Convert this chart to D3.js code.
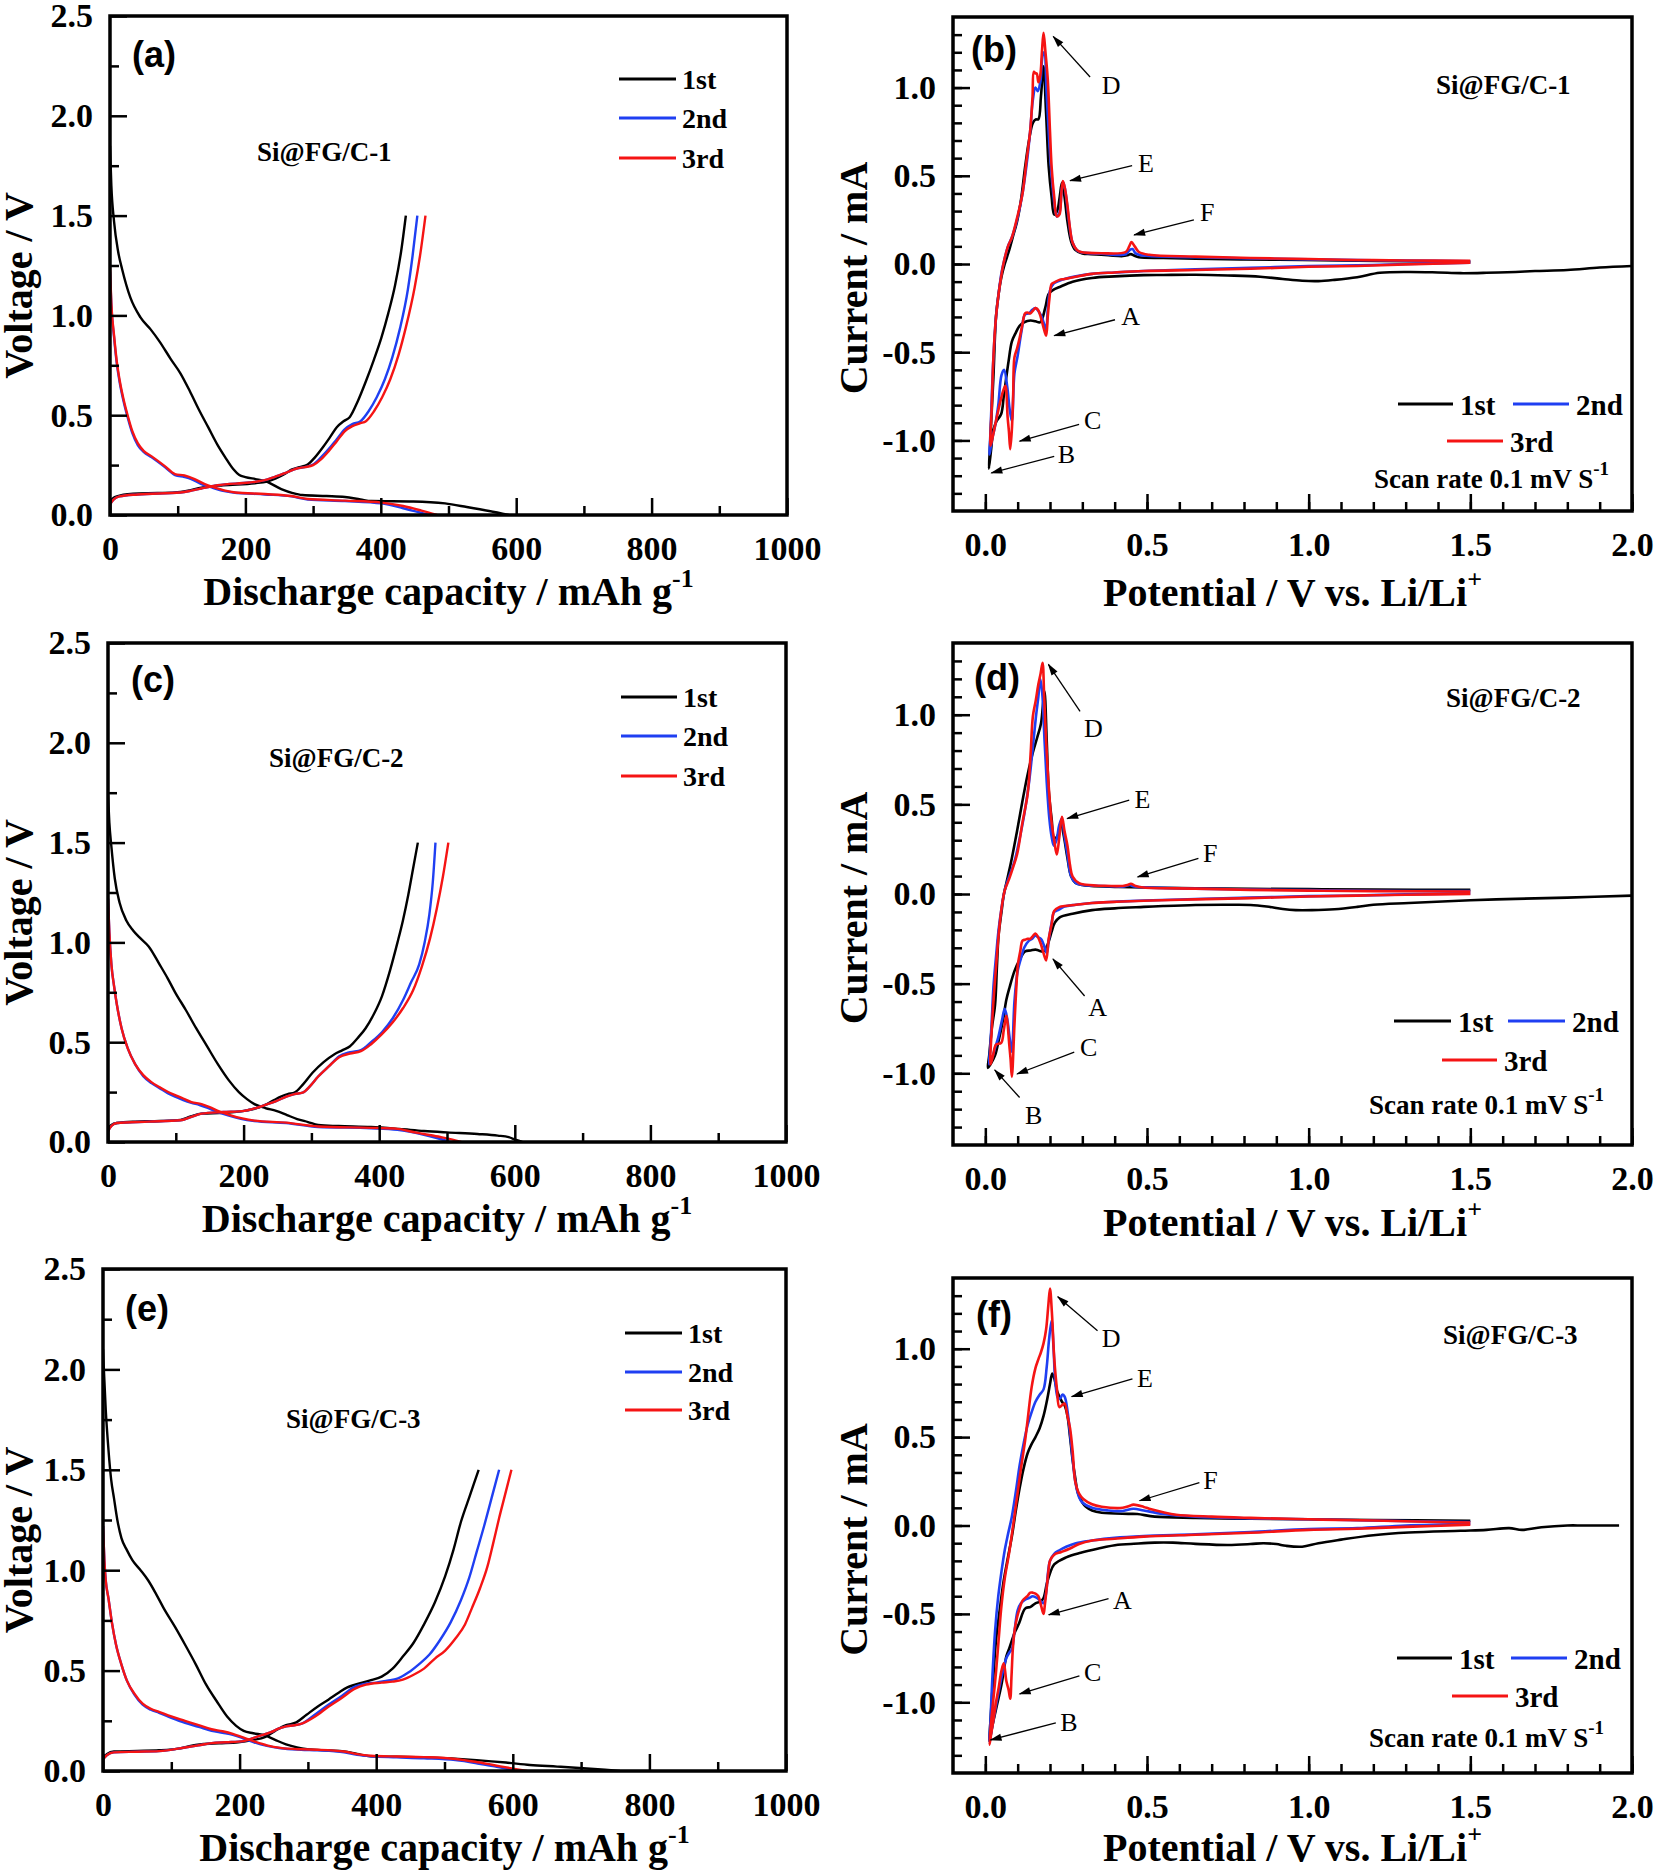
<!DOCTYPE html>
<html>
<head>
<meta charset="utf-8">
<style>
  body { margin: 0; background: #fff; }
  svg { display: block; }
</style>
</head>
<body>
<div id="chart"></div>
<script src="https://cdn.jsdelivr.net/npm/d3@7"></script>
<script>
// ---------- tick values ----------
const capTicks = [0, 200, 400, 600, 800, 1000];
const capMinor = d3.range(100, 1000, 200);
const voltTicks = [0, 0.5, 1.0, 1.5, 2.0, 2.5];
const voltMinor = [0.25, 0.75, 1.25, 1.75, 2.25];
const potTicks = [0, 0.5, 1.0, 1.5, 2.0];
const potMinor = d3.range(0, 21).map(d => d / 10);
const curTicks = [-1.0, -0.5, 0, 0.5, 1.0];
const curMinor = d3.range(-13, 14).map(d => d / 10);
const cycles = ["1st", "2nd", "3rd"];
const colors = ["#000000", "#1f3ff2", "#f51414"];

// ---------- panel (a) Si@FG/C-1 charge/discharge: [capacity, voltage] ----------
const a1Dis = [[0,1.85],[2,1.65],[6,1.47],[12,1.32],[18,1.23],[30,1.09],[45,0.99],[60,0.93],[73,0.87],[90,0.78],[104,0.71],[118,0.62],[131,0.53],[145,0.44],[159,0.35],[170,0.29],[182,0.23],[191,0.2],[200,0.19],[215,0.18],[229,0.17],[253,0.13],[270,0.11],[284,0.1],[320,0.095],[347,0.09],[370,0.078],[386,0.07],[448,0.068],[495,0.058],[527,0.04],[560,0.02],[589,0.0]];
const a1Chg = [[0,0.064],[5,0.085],[10,0.093],[20,0.102],[34,0.107],[70,0.11],[96,0.113],[115,0.122],[135,0.137],[167,0.149],[214,0.159],[232,0.168],[245,0.183],[258,0.205],[268,0.227],[280,0.24],[292,0.253],[303,0.29],[315,0.342],[325,0.39],[335,0.44],[345,0.47],[354,0.49],[366,0.57],[378,0.67],[390,0.78],[401,0.89],[411,1.01],[421,1.15],[430,1.32],[437,1.5]];
const a2Dis = [[0,1.22],[2,1.05],[6,0.89],[10,0.76],[14,0.67],[20,0.57],[26,0.49],[33,0.41],[41,0.35],[50,0.315],[61,0.29],[81,0.24],[96,0.2],[110,0.19],[120,0.18],[135,0.155],[151,0.137],[165,0.122],[182,0.113],[229,0.103],[268,0.093],[292,0.078],[347,0.07],[401,0.058],[433,0.034],[455,0.015],[472,0.0]];
const a2Chg = [[0,0.054],[6,0.08],[14,0.093],[41,0.103],[104,0.113],[120,0.122],[135,0.133],[159,0.149],[206,0.163],[225,0.172],[245,0.193],[262,0.215],[276,0.233],[288,0.24],[300,0.253],[312,0.29],[323,0.33],[335,0.38],[347,0.43],[358,0.455],[370,0.47],[382,0.52],[394,0.59],[406,0.68],[417,0.79],[428,0.93],[440,1.13],[447,1.3],[454,1.5]];
const a3Dis = [[0,1.24],[2,1.06],[6,0.9],[10,0.77],[14,0.68],[20,0.58],[26,0.5],[33,0.42],[41,0.36],[50,0.32],[61,0.295],[81,0.245],[96,0.205],[110,0.198],[125,0.18],[140,0.155],[155,0.137],[170,0.122],[185,0.113],[229,0.105],[268,0.095],[292,0.08],[347,0.072],[401,0.062],[433,0.045],[460,0.022],[483,0.0]];
const a3Chg = [[0,0.054],[6,0.08],[14,0.093],[41,0.103],[104,0.113],[120,0.122],[135,0.133],[159,0.149],[206,0.163],[225,0.172],[245,0.193],[262,0.215],[276,0.233],[288,0.24],[300,0.25],[312,0.28],[323,0.32],[335,0.37],[347,0.42],[358,0.445],[370,0.46],[378,0.47],[390,0.52],[402,0.59],[414,0.68],[426,0.8],[437,0.94],[450,1.14],[458,1.3],[466,1.5]];

// ---------- panel (c) Si@FG/C-2 ----------
const c1Dis = [[0,1.74],[2,1.6],[5,1.48],[10,1.32],[17,1.2],[27,1.11],[37,1.06],[48,1.02],[60,0.98],[76,0.89],[88,0.82],[99,0.75],[115,0.66],[130,0.57],[146,0.48],[162,0.39],[178,0.31],[193,0.25],[205,0.215],[216,0.19],[232,0.17],[248,0.156],[264,0.135],[279,0.115],[295,0.1],[310,0.085],[340,0.08],[388,0.075],[430,0.065],[466,0.055],[500,0.048],[545,0.04],[575,0.032],[591,0.024],[602,0.01],[611,0.0]];
const c1Chg = [[0,0.065],[5,0.085],[13,0.095],[40,0.102],[76,0.105],[107,0.111],[122,0.128],[138,0.142],[170,0.146],[201,0.156],[218,0.168],[232,0.186],[245,0.21],[255,0.227],[265,0.24],[275,0.247],[288,0.29],[302,0.348],[318,0.4],[334,0.44],[346,0.46],[357,0.48],[368,0.52],[380,0.57],[392,0.64],[404,0.73],[416,0.86],[427,1.0],[435,1.11],[443,1.24],[450,1.37],[457,1.5]];
const c2Dis = [[0,1.22],[2,1.05],[5,0.89],[9,0.78],[13,0.69],[20,0.57],[29,0.47],[40,0.39],[52,0.33],[64,0.295],[76,0.27],[88,0.245],[99,0.227],[111,0.21],[123,0.196],[135,0.185],[146,0.172],[160,0.152],[177,0.133],[196,0.116],[216,0.105],[263,0.095],[310,0.075],[388,0.069],[427,0.061],[450,0.048],[466,0.036],[485,0.02],[505,0.0]];
const c2Chg = [[0,0.055],[5,0.08],[13,0.095],[60,0.102],[107,0.109],[122,0.125],[138,0.142],[170,0.15],[201,0.156],[218,0.17],[232,0.186],[248,0.205],[263,0.227],[275,0.24],[287,0.247],[298,0.28],[310,0.328],[326,0.38],[341,0.43],[357,0.45],[373,0.46],[388,0.5],[404,0.55],[420,0.62],[435,0.71],[447,0.8],[459,0.89],[467,1.0],[474,1.14],[479,1.3],[483,1.5]];
const c3Dis = [[0,1.22],[2,1.05],[5,0.89],[9,0.78],[13,0.69],[20,0.57],[29,0.47],[40,0.39],[52,0.335],[64,0.3],[76,0.275],[88,0.252],[99,0.235],[111,0.218],[123,0.2],[138,0.19],[150,0.175],[163,0.155],[180,0.135],[198,0.118],[216,0.107],[263,0.097],[310,0.078],[388,0.071],[427,0.066],[450,0.05],[466,0.04],[490,0.025],[508,0.012],[521,0.0]];
const c3Chg = [[0,0.055],[5,0.08],[13,0.095],[60,0.102],[107,0.109],[122,0.125],[138,0.142],[170,0.15],[201,0.156],[218,0.17],[232,0.186],[248,0.205],[263,0.227],[275,0.24],[287,0.247],[298,0.28],[310,0.328],[326,0.38],[341,0.425],[357,0.443],[373,0.455],[388,0.49],[404,0.54],[420,0.6],[435,0.67],[450,0.76],[463,0.88],[475,1.02],[485,1.17],[494,1.33],[502,1.5]];

// ---------- panel (e) Si@FG/C-3 ----------
const e1Dis = [[0,2.1],[1,2.02],[4,1.8],[8,1.6],[12,1.45],[16,1.36],[21,1.25],[27,1.16],[35,1.1],[43,1.05],[55,1.0],[66,0.95],[78,0.88],[89,0.81],[105,0.72],[120,0.63],[136,0.53],[151,0.43],[166,0.35],[182,0.27],[195,0.225],[206,0.2],[220,0.188],[237,0.177],[252,0.155],[268,0.133],[284,0.118],[299,0.109],[330,0.102],[353,0.097],[372,0.085],[392,0.073],[430,0.071],[470,0.069],[510,0.062],[547,0.054],[590,0.042],[625,0.03],[665,0.022],[703,0.014],[735,0.006],[757,0.0]];
const e1Chg = [[0,0.063],[6,0.085],[16,0.097],[50,0.1],[82,0.103],[113,0.113],[128,0.125],[144,0.133],[170,0.138],[198,0.143],[220,0.155],[237,0.169],[252,0.2],[268,0.228],[283,0.242],[298,0.28],[314,0.32],[330,0.355],[345,0.39],[357,0.415],[369,0.43],[390,0.45],[408,0.47],[424,0.51],[439,0.57],[455,0.64],[470,0.73],[486,0.84],[501,0.97],[513,1.1],[524,1.24],[537,1.37],[550,1.5]];
const e2Dis = [[0,1.22],[2,1.05],[4,0.95],[8,0.86],[13,0.74],[19,0.63],[27,0.53],[35,0.45],[46,0.38],[58,0.33],[70,0.305],[82,0.29],[100,0.265],[120,0.24],[140,0.22],[159,0.2],[175,0.19],[190,0.18],[205,0.163],[221,0.143],[240,0.125],[260,0.113],[290,0.106],[314,0.103],[353,0.093],[372,0.08],[392,0.073],[430,0.068],[470,0.063],[516,0.054],[545,0.04],[571,0.024],[590,0.012],[606,0.0]];
const e2Chg = [[0,0.058],[6,0.08],[16,0.093],[50,0.096],[82,0.099],[120,0.117],[140,0.128],[159,0.139],[180,0.143],[206,0.149],[225,0.17],[245,0.192],[258,0.212],[268,0.222],[280,0.228],[291,0.236],[310,0.28],[330,0.33],[350,0.375],[369,0.42],[385,0.435],[400,0.44],[416,0.45],[431,0.46],[447,0.49],[462,0.53],[478,0.58],[493,0.65],[509,0.74],[524,0.85],[536,0.96],[547,1.09],[558,1.22],[569,1.36],[580,1.5]];
const e3Dis = [[0,1.22],[2,1.05],[4,0.95],[8,0.86],[13,0.74],[19,0.63],[27,0.53],[35,0.45],[46,0.385],[58,0.335],[70,0.31],[82,0.295],[100,0.272],[120,0.25],[140,0.228],[159,0.208],[175,0.198],[190,0.185],[205,0.167],[221,0.148],[240,0.128],[260,0.115],[290,0.108],[314,0.106],[353,0.097],[372,0.084],[392,0.076],[430,0.072],[470,0.069],[516,0.06],[545,0.046],[571,0.03],[600,0.012],[621,0.0]];
const e3Chg = [[0,0.058],[6,0.08],[16,0.093],[50,0.096],[82,0.099],[120,0.117],[140,0.128],[159,0.139],[180,0.143],[206,0.149],[225,0.17],[245,0.192],[258,0.212],[268,0.222],[280,0.228],[291,0.236],[310,0.27],[330,0.32],[350,0.365],[369,0.41],[385,0.43],[408,0.44],[424,0.445],[439,0.455],[455,0.48],[470,0.51],[486,0.56],[501,0.6],[516,0.66],[530,0.73],[540,0.81],[552,0.91],[563,1.02],[571,1.13],[580,1.26],[589,1.38],[598,1.5]];

// ---------- panel (b) CV Si@FG/C-1: [potential, current] ----------
const cvB1 = [[2.0,-0.011],[1.9,-0.02],[1.8,-0.034],[1.7,-0.04],[1.64,-0.045],[1.55,-0.05],[1.47,-0.052],[1.4,-0.048],[1.31,-0.045],[1.22,-0.05],[1.15,-0.075],[1.08,-0.09],[1.03,-0.097],[0.98,-0.095],[0.92,-0.085],[0.85,-0.072],[0.75,-0.065],[0.65,-0.061],[0.55,-0.062],[0.49,-0.063],[0.4,-0.07],[0.33,-0.079],[0.27,-0.1],[0.23,-0.13],[0.21,-0.147],[0.196,-0.17],[0.185,-0.25],[0.17,-0.33],[0.155,-0.325],[0.14,-0.32],[0.12,-0.33],[0.106,-0.35],[0.094,-0.39],[0.082,-0.44],[0.072,-0.55],[0.065,-0.64],[0.057,-0.75],[0.049,-0.85],[0.035,-0.89],[0.025,-0.94],[0.018,-1.05],[0.011,-1.16],
  [0.014,-1.05],[0.018,-0.9],[0.025,-0.64],[0.033,-0.3],[0.041,-0.17],[0.049,-0.08],[0.06,0.0],[0.074,0.08],[0.086,0.16],[0.098,0.24],[0.11,0.36],[0.123,0.55],[0.135,0.7],[0.147,0.8],[0.156,0.82],[0.164,0.82],[0.172,0.95],[0.18,1.12],[0.188,0.85],[0.196,0.55],[0.205,0.38],[0.213,0.28],[0.222,0.3],[0.23,0.38],[0.237,0.46],[0.245,0.38],[0.254,0.24],[0.265,0.13],[0.278,0.08],[0.3,0.06],[0.327,0.056],[0.38,0.05],[0.425,0.045],[0.44,0.05],[0.45,0.056],[0.46,0.048],[0.475,0.038],[0.55,0.034],[0.65,0.03],[0.8,0.026],[0.98,0.023],[1.15,0.019],[1.31,0.016],[1.5,0.011]];
const cvB2 = [[1.5,0.008],[1.3,0.0],[1.15,-0.008],[1.0,-0.012],[0.82,-0.022],[0.65,-0.03],[0.49,-0.04],[0.4,-0.048],[0.33,-0.056],[0.28,-0.07],[0.245,-0.085],[0.229,-0.095],[0.212,-0.11],[0.2,-0.15],[0.193,-0.26],[0.188,-0.37],[0.18,-0.33],[0.172,-0.29],[0.155,-0.25],[0.145,-0.26],[0.135,-0.28],[0.123,-0.285],[0.112,-0.38],[0.1,-0.52],[0.09,-0.62],[0.082,-0.89],[0.075,-0.82],[0.068,-0.7],[0.058,-0.6],[0.05,-0.63],[0.04,-0.8],[0.03,-0.92],[0.02,-1.0],[0.013,-1.08],
  [0.016,-0.95],[0.02,-0.75],[0.025,-0.53],[0.033,-0.3],[0.041,-0.17],[0.05,-0.05],[0.057,0.01],[0.07,0.1],[0.082,0.15],[0.098,0.25],[0.115,0.4],[0.13,0.6],[0.139,0.76],[0.147,0.93],[0.155,1.0],[0.162,0.98],[0.17,1.03],[0.177,1.18],[0.182,1.2],[0.19,0.95],[0.198,0.68],[0.205,0.5],[0.213,0.35],[0.221,0.27],[0.229,0.29],[0.237,0.43],[0.242,0.46],[0.25,0.38],[0.258,0.25],[0.27,0.12],[0.285,0.075],[0.3,0.065],[0.36,0.058],[0.434,0.055],[0.447,0.08],[0.455,0.085],[0.465,0.06],[0.48,0.05],[0.507,0.046],[0.65,0.038],[0.82,0.032],[1.0,0.026],[1.15,0.022],[1.3,0.019],[1.5,0.016]];
const cvB3 = [[1.5,0.007],[1.3,-0.002],[1.15,-0.011],[1.0,-0.016],[0.82,-0.027],[0.65,-0.034],[0.49,-0.04],[0.4,-0.048],[0.33,-0.056],[0.28,-0.072],[0.245,-0.085],[0.229,-0.09],[0.212,-0.105],[0.205,-0.113],[0.198,-0.2],[0.193,-0.3],[0.188,-0.406],[0.18,-0.36],[0.172,-0.305],[0.163,-0.26],[0.155,-0.25],[0.147,-0.265],[0.139,-0.28],[0.13,-0.275],[0.123,-0.28],[0.114,-0.35],[0.106,-0.42],[0.098,-0.48],[0.09,-0.53],[0.086,-0.75],[0.082,-0.94],[0.077,-1.05],[0.073,-0.95],[0.069,-0.87],[0.062,-0.69],[0.055,-0.72],[0.049,-0.76],[0.04,-0.83],[0.033,-0.89],[0.024,-0.97],[0.016,-1.03],
  [0.02,-0.8],[0.025,-0.53],[0.033,-0.3],[0.041,-0.17],[0.05,-0.06],[0.057,0.01],[0.07,0.1],[0.082,0.15],[0.098,0.26],[0.115,0.4],[0.127,0.58],[0.139,0.76],[0.146,0.95],[0.15,1.09],[0.155,1.08],[0.159,1.08],[0.164,1.03],[0.17,1.07],[0.175,1.2],[0.18,1.31],[0.186,1.2],[0.193,1.05],[0.2,0.75],[0.205,0.55],[0.213,0.38],[0.221,0.27],[0.229,0.28],[0.235,0.4],[0.24,0.47],[0.247,0.42],[0.254,0.33],[0.262,0.2],[0.27,0.12],[0.283,0.08],[0.295,0.068],[0.36,0.061],[0.434,0.068],[0.445,0.1],[0.452,0.124],[0.462,0.1],[0.475,0.068],[0.507,0.052],[0.65,0.042],[0.82,0.034],[1.0,0.028],[1.15,0.023],[1.3,0.02],[1.5,0.018]];

// ---------- panel (d) CV Si@FG/C-2 ----------
const cvD1 = [[2.0,-0.009],[1.8,-0.02],[1.64,-0.027],[1.5,-0.035],[1.31,-0.05],[1.2,-0.06],[1.15,-0.072],[1.08,-0.085],[1.01,-0.09],[0.96,-0.09],[0.92,-0.084],[0.87,-0.07],[0.82,-0.061],[0.75,-0.06],[0.65,-0.061],[0.55,-0.067],[0.49,-0.072],[0.4,-0.08],[0.33,-0.09],[0.27,-0.11],[0.23,-0.13],[0.215,-0.16],[0.205,-0.21],[0.193,-0.28],[0.18,-0.32],[0.165,-0.315],[0.155,-0.31],[0.14,-0.315],[0.123,-0.32],[0.105,-0.37],[0.09,-0.43],[0.075,-0.52],[0.065,-0.59],[0.055,-0.7],[0.041,-0.82],[0.03,-0.9],[0.016,-0.95],[0.008,-0.97],
  [0.012,-0.9],[0.02,-0.75],[0.03,-0.62],[0.036,-0.4],[0.041,-0.23],[0.05,-0.1],[0.057,-0.005],[0.07,0.1],[0.082,0.2],[0.098,0.35],[0.115,0.52],[0.13,0.66],[0.147,0.79],[0.16,0.87],[0.172,0.95],[0.178,1.05],[0.183,1.13],[0.19,0.85],[0.196,0.58],[0.205,0.42],[0.213,0.31],[0.222,0.32],[0.23,0.37],[0.234,0.4],[0.243,0.32],[0.254,0.2],[0.265,0.1],[0.278,0.063],[0.3,0.05],[0.327,0.045],[0.4,0.04],[0.49,0.036],[0.65,0.032],[0.82,0.029],[1.0,0.027],[1.2,0.025],[1.5,0.023]];
const cvD2 = [[1.5,0.003],[1.3,-0.002],[1.15,-0.008],[1.0,-0.012],[0.82,-0.02],[0.65,-0.028],[0.49,-0.036],[0.4,-0.043],[0.33,-0.05],[0.28,-0.06],[0.245,-0.07],[0.225,-0.09],[0.213,-0.1],[0.205,-0.16],[0.196,-0.26],[0.19,-0.33],[0.18,-0.28],[0.172,-0.25],[0.162,-0.24],[0.155,-0.23],[0.145,-0.25],[0.135,-0.26],[0.12,-0.3],[0.11,-0.36],[0.1,-0.43],[0.09,-0.6],[0.082,-0.88],[0.075,-0.8],[0.068,-0.7],[0.06,-0.64],[0.052,-0.7],[0.04,-0.8],[0.03,-0.86],[0.02,-0.92],[0.012,-0.95],
  [0.015,-0.86],[0.02,-0.7],[0.025,-0.52],[0.033,-0.35],[0.041,-0.2],[0.05,-0.08],[0.06,0.02],[0.074,0.1],[0.09,0.18],[0.105,0.3],[0.12,0.44],[0.135,0.62],[0.147,0.82],[0.156,0.98],[0.164,1.1],[0.17,1.2],[0.176,1.12],[0.183,0.86],[0.19,0.62],[0.198,0.42],[0.205,0.32],[0.212,0.27],[0.22,0.3],[0.228,0.38],[0.236,0.42],[0.245,0.32],[0.254,0.22],[0.265,0.1],[0.28,0.06],[0.3,0.05],[0.36,0.045],[0.43,0.042],[0.447,0.05],[0.46,0.042],[0.49,0.037],[0.65,0.03],[0.82,0.025],[1.0,0.022],[1.2,0.018],[1.5,0.016]];
const cvD3 = [[1.5,0.0],[1.3,-0.004],[1.15,-0.009],[1.0,-0.014],[0.82,-0.023],[0.65,-0.03],[0.49,-0.038],[0.4,-0.044],[0.33,-0.05],[0.28,-0.06],[0.245,-0.067],[0.23,-0.072],[0.213,-0.095],[0.205,-0.17],[0.196,-0.25],[0.188,-0.37],[0.18,-0.33],[0.172,-0.28],[0.163,-0.24],[0.155,-0.22],[0.147,-0.235],[0.139,-0.25],[0.131,-0.25],[0.123,-0.255],[0.115,-0.26],[0.108,-0.32],[0.101,-0.39],[0.095,-0.55],[0.09,-0.73],[0.082,-1.02],[0.078,-0.92],[0.074,-0.84],[0.065,-0.68],[0.057,-0.76],[0.049,-0.83],[0.033,-0.84],[0.024,-0.9],[0.016,-0.95],
  [0.02,-0.75],[0.025,-0.6],[0.033,-0.41],[0.04,-0.25],[0.049,-0.095],[0.06,0.02],[0.074,0.086],[0.086,0.15],[0.098,0.22],[0.115,0.4],[0.131,0.56],[0.14,0.78],[0.147,0.99],[0.156,1.08],[0.164,1.17],[0.171,1.23],[0.177,1.29],[0.182,1.1],[0.188,0.86],[0.196,0.6],[0.205,0.4],[0.213,0.3],[0.221,0.22],[0.229,0.32],[0.237,0.43],[0.245,0.35],[0.254,0.27],[0.262,0.16],[0.27,0.097],[0.29,0.06],[0.311,0.052],[0.425,0.045],[0.44,0.05],[0.45,0.057],[0.465,0.045],[0.49,0.036],[0.65,0.03],[0.82,0.023],[1.0,0.019],[1.2,0.016],[1.5,0.014]];

// ---------- panel (f) CV Si@FG/C-3 ----------
const cvF1 = [[1.96,0.0],[1.85,0.0],[1.8,0.0],[1.72,-0.01],[1.66,-0.025],[1.62,-0.015],[1.55,-0.025],[1.47,-0.03],[1.31,-0.04],[1.2,-0.055],[1.1,-0.08],[1.03,-0.1],[0.98,-0.12],[0.93,-0.115],[0.9,-0.105],[0.86,-0.1],[0.82,-0.105],[0.75,-0.11],[0.65,-0.104],[0.58,-0.097],[0.524,-0.097],[0.45,-0.105],[0.41,-0.109],[0.35,-0.13],[0.295,-0.154],[0.25,-0.18],[0.213,-0.22],[0.2,-0.27],[0.19,-0.33],[0.18,-0.41],[0.17,-0.43],[0.155,-0.44],[0.14,-0.46],[0.123,-0.47],[0.105,-0.55],[0.09,-0.61],[0.075,-0.69],[0.065,-0.74],[0.05,-0.9],[0.033,-1.04],[0.02,-1.15],[0.013,-1.22],
  [0.016,-1.1],[0.025,-0.85],[0.033,-0.65],[0.045,-0.47],[0.057,-0.31],[0.07,-0.18],[0.082,-0.063],[0.094,0.08],[0.106,0.21],[0.118,0.32],[0.131,0.41],[0.143,0.46],[0.155,0.5],[0.168,0.55],[0.18,0.62],[0.192,0.72],[0.2,0.8],[0.207,0.86],[0.215,0.82],[0.222,0.76],[0.229,0.73],[0.237,0.7],[0.245,0.68],[0.254,0.62],[0.262,0.5],[0.27,0.37],[0.278,0.27],[0.286,0.186],[0.3,0.13],[0.311,0.106],[0.33,0.085],[0.36,0.072],[0.442,0.066],[0.47,0.065],[0.524,0.05],[0.65,0.043],[0.82,0.038],[1.0,0.035],[1.2,0.031],[1.5,0.027]];
const cvF2 = [[1.5,0.01],[1.3,0.0],[1.15,-0.015],[1.0,-0.02],[0.82,-0.037],[0.65,-0.05],[0.49,-0.06],[0.4,-0.07],[0.33,-0.085],[0.28,-0.1],[0.25,-0.12],[0.229,-0.14],[0.213,-0.16],[0.2,-0.2],[0.193,-0.28],[0.188,-0.38],[0.18,-0.44],[0.172,-0.43],[0.16,-0.41],[0.147,-0.4],[0.135,-0.41],[0.123,-0.42],[0.11,-0.44],[0.1,-0.48],[0.09,-0.6],[0.082,-0.7],[0.074,-0.72],[0.065,-0.75],[0.05,-0.86],[0.035,-1.0],[0.022,-1.13],[0.013,-1.22],
  [0.016,-1.1],[0.022,-0.85],[0.03,-0.6],[0.04,-0.4],[0.05,-0.26],[0.06,-0.14],[0.07,-0.05],[0.082,0.05],[0.095,0.2],[0.106,0.34],[0.118,0.46],[0.131,0.57],[0.143,0.64],[0.155,0.7],[0.168,0.74],[0.18,0.77],[0.19,0.9],[0.197,1.05],[0.205,1.16],[0.211,1.0],[0.217,0.8],[0.225,0.72],[0.232,0.72],[0.238,0.74],[0.245,0.73],[0.254,0.65],[0.262,0.52],[0.27,0.38],[0.278,0.25],[0.29,0.16],[0.3,0.13],[0.33,0.1],[0.38,0.085],[0.425,0.082],[0.458,0.095],[0.49,0.085],[0.55,0.065],[0.65,0.05],[0.82,0.04],[1.0,0.035],[1.2,0.028],[1.5,0.02]];
const cvF3 = [[1.5,0.005],[1.3,-0.008],[1.15,-0.018],[1.0,-0.025],[0.82,-0.041],[0.65,-0.052],[0.49,-0.063],[0.4,-0.075],[0.327,-0.086],[0.29,-0.105],[0.262,-0.13],[0.235,-0.15],[0.213,-0.165],[0.2,-0.2],[0.196,-0.244],[0.19,-0.35],[0.184,-0.45],[0.18,-0.5],[0.172,-0.45],[0.164,-0.4],[0.155,-0.385],[0.147,-0.38],[0.139,-0.38],[0.13,-0.4],[0.115,-0.425],[0.106,-0.47],[0.098,-0.52],[0.09,-0.6],[0.085,-0.7],[0.081,-0.85],[0.077,-0.98],[0.072,-0.93],[0.065,-0.88],[0.057,-0.78],[0.05,-0.82],[0.041,-0.92],[0.033,-1.0],[0.025,-1.1],[0.018,-1.18],[0.013,-1.24],
  [0.016,-1.15],[0.025,-0.98],[0.033,-0.83],[0.041,-0.65],[0.049,-0.47],[0.06,-0.3],[0.074,-0.15],[0.086,0.0],[0.098,0.16],[0.11,0.32],[0.123,0.48],[0.131,0.6],[0.143,0.78],[0.155,0.89],[0.164,0.94],[0.172,0.98],[0.18,1.03],[0.188,1.11],[0.195,1.25],[0.2,1.34],[0.206,1.2],[0.213,0.95],[0.221,0.78],[0.229,0.67],[0.237,0.68],[0.245,0.69],[0.254,0.62],[0.262,0.55],[0.27,0.42],[0.278,0.25],[0.29,0.18],[0.303,0.15],[0.33,0.12],[0.36,0.106],[0.425,0.1],[0.445,0.11],[0.458,0.118],[0.49,0.105],[0.507,0.095],[0.55,0.075],[0.59,0.061],[0.7,0.05],[0.82,0.043],[1.0,0.035],[1.2,0.028],[1.5,0.016]];

// ---------- peak annotations (data units): label, tip, tail, text position ----------
const peaksB = [
  { label: "D", tip: [0.21, 1.29], tail: [0.324, 1.06], text: [0.36, 0.965] },
  { label: "E", tip: [0.262, 0.472], tail: [0.454, 0.557], text: [0.472, 0.519] },
  { label: "F", tip: [0.46, 0.165], tail: [0.645, 0.25], text: [0.664, 0.241] },
  { label: "A", tip: [0.213, -0.406], tail: [0.401, -0.316], text: [0.42, -0.345] },
  { label: "C", tip: [0.106, -1.004], tail: [0.29, -0.909], text: [0.305, -0.936] },
  { label: "B", tip: [0.0185, -1.184], tail: [0.213, -1.09], text: [0.224, -1.128] }
];
const peaksD = [
  { label: "D", tip: [0.195, 1.281], tail: [0.293, 1.019], text: [0.305, 0.873] },
  { label: "E", tip: [0.253, 0.421], tail: [0.445, 0.523], text: [0.461, 0.482] },
  { label: "F", tip: [0.471, 0.095], tail: [0.659, 0.199], text: [0.673, 0.181] },
  { label: "A", tip: [0.209, -0.362], tail: [0.307, -0.569], text: [0.318, -0.683] },
  { label: "C", tip: [0.098, -1.004], tail: [0.275, -0.882], text: [0.293, -0.904] },
  { label: "B", tip: [0.029, -0.981], tail: [0.106, -1.135], text: [0.123, -1.284] }
];
const peaksF = [
  { label: "D", tip: [0.224, 1.294], tail: [0.347, 1.102], text: [0.36, 1.011] },
  { label: "E", tip: [0.267, 0.729], tail: [0.455, 0.83], text: [0.469, 0.785] },
  { label: "F", tip: [0.477, 0.14], tail: [0.662, 0.242], text: [0.674, 0.208] },
  { label: "A", tip: [0.196, -0.505], tail: [0.381, -0.414], text: [0.395, -0.47] },
  { label: "C", tip: [0.106, -0.953], tail: [0.291, -0.851], text: [0.305, -0.878] },
  { label: "B", tip: [0.016, -1.213], tail: [0.218, -1.116], text: [0.232, -1.161] }
];

// ---------- layout ----------
const W = 1654, H = 1873;
const serif = "'Liberation Serif', 'Times New Roman', serif";
const sans = "'Liberation Sans', Arial, sans-serif";

const galvPanels = [
  { tag: "(a)", name: "Si@FG/C-1", box: { x: 110, y: 16, w: 677, h: 499 },
    series: [[a1Dis, a1Chg], [a2Dis, a2Chg], [a3Dis, a3Chg]],
    tagPos: [132, 67], namePos: [257, 161], legX: [619, 676], legY: [79, 118, 158] },
  { tag: "(c)", name: "Si@FG/C-2", box: { x: 108, y: 643, w: 678, h: 499 },
    series: [[c1Dis, c1Chg], [c2Dis, c2Chg], [c3Dis, c3Chg]],
    tagPos: [131, 692], namePos: [269, 767], legX: [621, 677], legY: [697, 736, 776] },
  { tag: "(e)", name: "Si@FG/C-3", box: { x: 103, y: 1269, w: 683, h: 502 },
    series: [[e1Dis, e1Chg], [e2Dis, e2Chg], [e3Dis, e3Chg]],
    tagPos: [125, 1321], namePos: [286, 1428], legX: [625, 682], legY: [1333, 1372, 1410] }
];

const cvPanels = [
  { tag: "(b)", name: "Si@FG/C-1", box: { x: 953, y: 17, w: 679, h: 494 },
    series: [cvB1, cvB2, cvB3], peaks: peaksB, titleDy: 95,
    tagPos: [971, 62], namePos: [1436, 94],
    leg: [{ x1: 1398, x2: 1453, y: 404 }, { x1: 1513, x2: 1569, y: 404 }, { x1: 1447, x2: 1503, y: 441 }],
    scanPos: [1374, 488] },
  { tag: "(d)", name: "Si@FG/C-2", box: { x: 953, y: 643, w: 679, h: 502 },
    series: [cvD1, cvD2, cvD3], peaks: peaksD, titleDy: 91,
    tagPos: [974, 690], namePos: [1446, 707],
    leg: [{ x1: 1394, x2: 1451, y: 1021 }, { x1: 1508, x2: 1565, y: 1021 }, { x1: 1442, x2: 1497, y: 1060 }],
    scanPos: [1369, 1114] },
  { tag: "(f)", name: "Si@FG/C-3", box: { x: 953, y: 1278, w: 679, h: 495 },
    series: [cvF1, cvF2, cvF3], peaks: peaksF, titleDy: 88,
    tagPos: [976, 1327], namePos: [1443, 1344],
    leg: [{ x1: 1397, x2: 1452, y: 1658 }, { x1: 1511, x2: 1567, y: 1658 }, { x1: 1452, x2: 1508, y: 1696 }],
    scanPos: [1369, 1747] }
];

const svg = d3.select("#chart").append("svg")
  .attr("width", W).attr("height", H)
  .style("background", "#fff");

const defs = svg.append("defs");
defs.append("marker")
  .attr("id", "arrow")
  .attr("viewBox", "0 -5 12 10")
  .attr("refX", 11).attr("refY", 0)
  .attr("markerUnits", "userSpaceOnUse")
  .attr("markerWidth", 13).attr("markerHeight", 10)
  .attr("orient", "auto")
  .append("path")
  .attr("d", "M0,-3.6L12,0L0,3.6Z")
  .attr("fill", "#000");

// shared axis drawing: inward ticks, labels outside, box frame
function drawAxes(g, box, x, y, opt) {
  const bx = g.append("g").attr("transform", `translate(0,${box.y + box.h})`);
  bx.call(d3.axisBottom(x).tickValues(opt.xMinor).tickSize(-9).tickFormat(""));
  bx.append("g").call(d3.axisBottom(x).tickValues(opt.xMajor).tickSize(-17).tickPadding(21).tickFormat(opt.xFmt));
  const by = g.append("g").attr("transform", `translate(${box.x},0)`);
  by.call(d3.axisLeft(y).tickValues(opt.yMinor).tickSize(-9).tickFormat(""));
  by.append("g").call(d3.axisLeft(y).tickValues(opt.yMajor).tickSize(-17).tickPadding(17).tickFormat(opt.yFmt));
  g.selectAll(".domain").remove();
  g.selectAll(".tick line").attr("stroke", "#000").attr("stroke-width", 2.5);
  g.selectAll(".tick text")
    .attr("fill", "#000")
    .style("font-family", serif).style("font-weight", "bold").style("font-size", "34px");
  g.append("rect")
    .attr("x", box.x).attr("y", box.y).attr("width", box.w).attr("height", box.h)
    .attr("fill", "none").attr("stroke", "#000").attr("stroke-width", 3.5);
}

function addText(g, x, y, str, size, opts = {}) {
  return g.append("text")
    .attr("x", x).attr("y", y)
    .attr("text-anchor", opts.anchor || "start")
    .style("font-family", opts.family || serif)
    .style("font-weight", opts.weight || "bold")
    .style("font-size", size + "px")
    .attr("fill", "#000")
    .text(str);
}

function clipFor(id, box) {
  defs.append("clipPath").attr("id", id)
    .append("rect").attr("x", box.x).attr("y", box.y).attr("width", box.w).attr("height", box.h);
  return `url(#${id})`;
}

const minusFix = s => s.replace("\u2212", "-");

// ---------- galvanostatic panels ----------
galvPanels.forEach((p, pi) => {
  const b = p.box;
  const g = svg.append("g");
  const x = d3.scaleLinear().domain([0, 1000]).range([b.x, b.x + b.w]);
  const y = d3.scaleLinear().domain([0, 2.5]).range([b.y + b.h, b.y]);
  const line = d3.line().x(d => x(d[0])).y(d => y(d[1])).curve(d3.curveMonotoneX);

  const plot = g.append("g").attr("clip-path", clipFor("clipG" + pi, b));
  p.series.forEach((branches, si) => {
    branches.forEach(arr => {
      plot.append("path").datum(arr)
        .attr("d", line).attr("fill", "none")
        .attr("stroke", colors[si]).attr("stroke-width", 2.4)
        .attr("stroke-linejoin", "round");
    });
  });

  drawAxes(g, b, x, y, {
    xMajor: capTicks, xMinor: capMinor, yMajor: voltTicks, yMinor: voltMinor,
    xFmt: d3.format("d"), yFmt: d3.format(".1f")
  });

  const xt = addText(g, b.x + b.w / 2, b.y + b.h + 90, "Discharge capacity / mAh g", 40, { anchor: "middle" });
  xt.append("tspan").attr("dy", -18).style("font-size", "26px").text("-1");
  addText(g, 0, 0, "Voltage / V", 40, { anchor: "middle" })
    .attr("transform", `translate(32,${b.y + b.h / 2 + 20}) rotate(-90)`);

  addText(g, p.tagPos[0], p.tagPos[1], p.tag, 36, { family: sans });
  addText(g, p.namePos[0], p.namePos[1], p.name, 27);

  cycles.forEach((c, i) => {
    g.append("line")
      .attr("x1", p.legX[0]).attr("x2", p.legX[1])
      .attr("y1", p.legY[i]).attr("y2", p.legY[i])
      .attr("stroke", colors[i]).attr("stroke-width", 3);
    addText(g, p.legX[1] + 6, p.legY[i] + 10, c, 28);
  });
});

// ---------- cyclic voltammetry panels ----------
cvPanels.forEach((p, pi) => {
  const b = p.box;
  const g = svg.append("g");
  const x = d3.scaleLinear().domain([-0.1, 2.0]).range([b.x, b.x + b.w]);
  const y = d3.scaleLinear().domain([-1.4, 1.4]).range([b.y + b.h, b.y]);
  const line = d3.line().x(d => x(d[0])).y(d => y(d[1])).curve(d3.curveCatmullRom.alpha(0.5));

  const plot = g.append("g").attr("clip-path", clipFor("clipC" + pi, b));
  p.series.forEach((arr, si) => {
    plot.append("path").datum(arr)
      .attr("d", line).attr("fill", "none")
      .attr("stroke", colors[si]).attr("stroke-width", 2.6)
      .attr("stroke-linejoin", "round");
  });

  drawAxes(g, b, x, y, {
    xMajor: potTicks, xMinor: potMinor, yMajor: curTicks, yMinor: curMinor,
    xFmt: d => minusFix(d3.format(".1f")(d)), yFmt: d => minusFix(d3.format(".1f")(d))
  });

  const xt = addText(g, b.x + b.w / 2, b.y + b.h + p.titleDy, "Potential / V vs. Li/Li", 40, { anchor: "middle" });
  xt.append("tspan").attr("dy", -18).style("font-size", "26px").text("+");
  addText(g, 0, 0, "Current / mA", 40, { anchor: "middle" })
    .attr("transform", `translate(867,${b.y + b.h / 2 + 14}) rotate(-90)`);

  addText(g, p.tagPos[0], p.tagPos[1], p.tag, 36, { family: sans });
  addText(g, p.namePos[0], p.namePos[1], p.name, 27);

  cycles.forEach((c, i) => {
    const L = p.leg[i];
    g.append("line")
      .attr("x1", L.x1).attr("x2", L.x2).attr("y1", L.y).attr("y2", L.y)
      .attr("stroke", colors[i]).attr("stroke-width", 3);
    addText(g, L.x2 + 7, L.y + 11, c, 29);
  });

  const st = addText(g, p.scanPos[0], p.scanPos[1], "Scan rate 0.1 mV S", 27);
  st.append("tspan").attr("dy", -13).style("font-size", "19px").text("-1");

  p.peaks.forEach(k => {
    g.append("line")
      .attr("x1", x(k.tail[0])).attr("y1", y(k.tail[1]))
      .attr("x2", x(k.tip[0])).attr("y2", y(k.tip[1]))
      .attr("stroke", "#000").attr("stroke-width", 1.3)
      .attr("marker-end", "url(#arrow)");
    addText(g, x(k.text[0]), y(k.text[1]), k.label, 26, { weight: "normal" });
  });
});
</script>
</body>
</html>
